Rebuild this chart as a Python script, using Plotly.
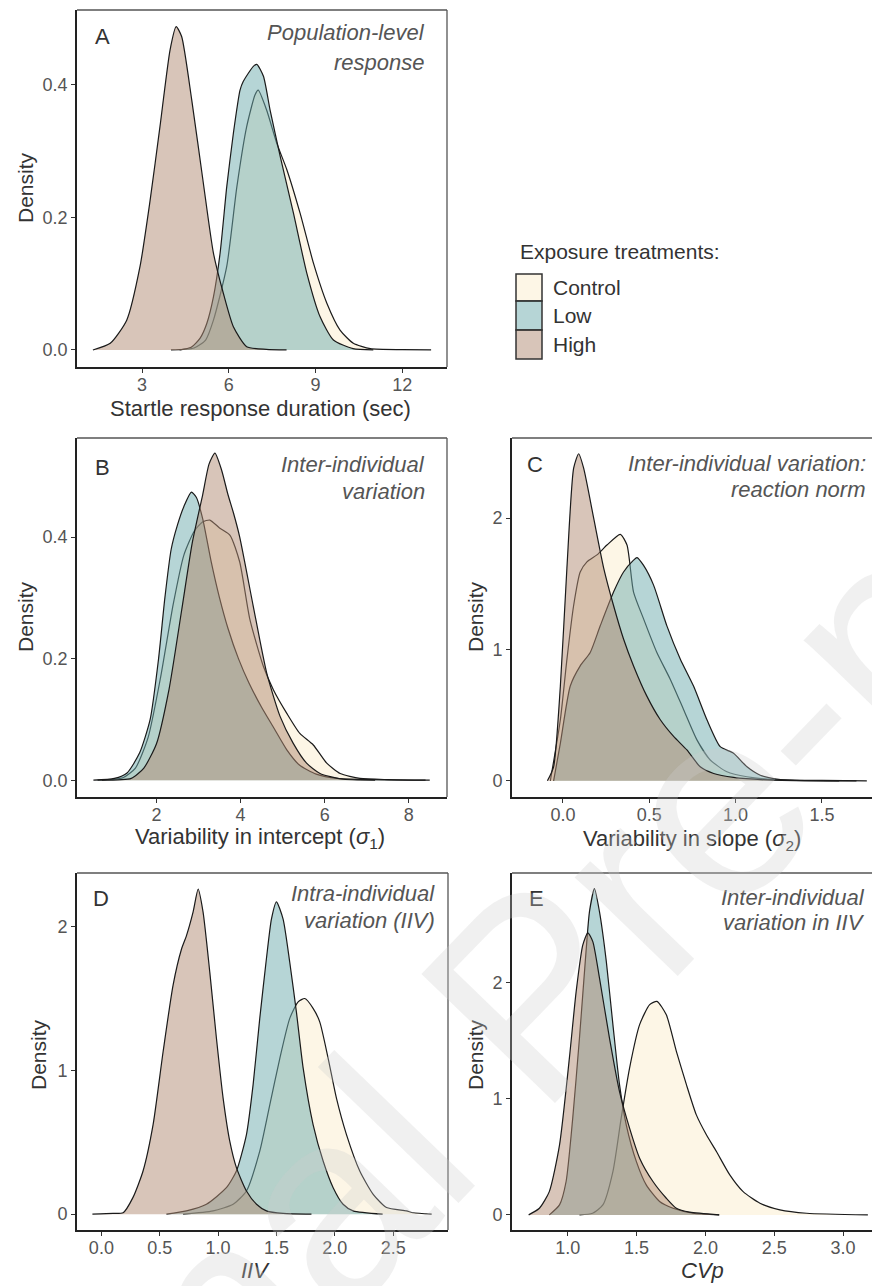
import plotly.graph_objects as go

W, H = 872, 1286

# ---------------- data ----------------
treatments = ["Control", "Low", "High"]

# Panel A: Startle response duration (sec)
A_control_x = [4.0, 4.8, 5.2, 5.47, 5.93, 6.28, 6.62, 6.91, 7.02, 7.31, 7.66, 8.01, 8.47, 8.93, 9.39, 9.85, 10.31, 10.9, 12.0, 13.0]
A_control_y = [0.0, 0.003, 0.015, 0.045, 0.126, 0.246, 0.337, 0.385, 0.392, 0.362, 0.312, 0.272, 0.206, 0.131, 0.071, 0.03, 0.01, 0.002, 0.0005, 0.0]
A_low_x = [4.3, 4.7, 5.01, 5.24, 5.47, 5.7, 5.93, 6.16, 6.39, 6.5, 6.85, 6.97, 7.2, 7.43, 7.78, 8.24, 8.7, 9.16, 9.62, 10.3, 11.0]
A_low_y = [0.0, 0.004, 0.018, 0.04, 0.08, 0.146, 0.246, 0.327, 0.392, 0.405, 0.428, 0.431, 0.413, 0.362, 0.292, 0.206, 0.116, 0.05, 0.015, 0.002, 0.0]
A_high_x = [1.3, 1.9, 2.47, 2.93, 3.28, 3.62, 3.97, 4.18, 4.37, 4.72, 5.12, 5.47, 5.81, 6.16, 6.62, 7.3, 8.0]
A_high_y = [0.0, 0.01, 0.045, 0.126, 0.226, 0.337, 0.453, 0.488, 0.473, 0.377, 0.252, 0.146, 0.086, 0.035, 0.005, 0.001, 0.0]

# Panel B: Variability in intercept
B_control_x = [0.6, 1.2, 1.5, 1.8, 2.1, 2.4, 2.65, 2.9, 3.1, 3.27, 3.5, 3.75, 3.98, 4.22, 4.54, 4.78, 5.1, 5.41, 5.73, 6.05, 6.37, 6.84, 7.5, 8.5]
B_control_y = [0.0, 0.004, 0.02, 0.07, 0.17, 0.29, 0.37, 0.41, 0.425, 0.428, 0.415, 0.403, 0.359, 0.265, 0.188, 0.149, 0.11, 0.077, 0.058, 0.028, 0.011, 0.003, 0.001, 0.0]
B_low_x = [0.5, 1.0, 1.3, 1.6, 1.85, 2.05, 2.2, 2.35, 2.5, 2.65, 2.83, 2.95, 3.1, 3.3, 3.5, 3.7, 3.95, 4.2, 4.5, 4.8, 5.1, 5.4, 5.8, 6.3, 8.4]
B_low_y = [0.0, 0.003, 0.012, 0.045, 0.1, 0.2, 0.3, 0.38, 0.42, 0.45, 0.474, 0.465, 0.43, 0.36, 0.3, 0.25, 0.2, 0.16, 0.12, 0.085, 0.05, 0.025, 0.01, 0.003, 0.0]
B_high_x = [0.7, 1.4, 1.7, 2.0, 2.3, 2.6, 2.85, 3.1, 3.25, 3.39, 3.55, 3.7, 3.83, 3.98, 4.3, 4.62, 4.94, 5.25, 5.57, 5.89, 6.4, 7.2]
B_high_y = [0.0, 0.003, 0.02, 0.06, 0.15, 0.28, 0.39, 0.47, 0.52, 0.538, 0.51, 0.47, 0.44, 0.40, 0.287, 0.177, 0.105, 0.061, 0.028, 0.011, 0.002, 0.0]

# Panel C: Variability in slope
C_control_x = [-0.073, -0.015, 0.023, 0.062, 0.1, 0.139, 0.197, 0.255, 0.332, 0.371, 0.409, 0.467, 0.544, 0.622, 0.699, 0.776, 0.853, 0.95, 1.066, 1.22, 1.5, 1.76]
C_control_y = [0.0, 0.465, 0.925, 1.335, 1.59, 1.667, 1.72, 1.795, 1.877, 1.795, 1.437, 1.233, 0.977, 0.772, 0.542, 0.312, 0.159, 0.069, 0.031, 0.01, 0.003, 0.0]
C_low_x = [-0.054, -0.015, 0.042, 0.1, 0.158, 0.216, 0.293, 0.351, 0.409, 0.429, 0.467, 0.525, 0.602, 0.68, 0.757, 0.834, 0.911, 0.988, 1.066, 1.143, 1.26, 1.7]
C_low_y = [0.0, 0.286, 0.72, 0.875, 0.977, 1.18, 1.437, 1.59, 1.68, 1.70, 1.64, 1.49, 1.18, 0.926, 0.72, 0.465, 0.26, 0.21, 0.107, 0.043, 0.01, 0.0]
C_high_x = [-0.09, -0.054, -0.015, 0.023, 0.062, 0.091, 0.12, 0.178, 0.236, 0.293, 0.351, 0.409, 0.486, 0.564, 0.641, 0.718, 0.795, 0.873, 0.988, 1.22, 1.6]
C_high_y = [0.0, 0.107, 0.72, 1.62, 2.38, 2.49, 2.38, 2.0, 1.62, 1.335, 1.08, 0.875, 0.645, 0.465, 0.338, 0.235, 0.107, 0.056, 0.026, 0.005, 0.0]

# Panel D: IIV
D_control_x = [0.7, 0.957, 1.129, 1.243, 1.357, 1.443, 1.529, 1.614, 1.686, 1.743, 1.814, 1.871, 1.943, 2.014, 2.1, 2.214, 2.329, 2.443, 2.614, 2.67, 2.83]
D_control_y = [0.0, 0.023, 0.069, 0.161, 0.438, 0.76, 1.083, 1.36, 1.475, 1.498, 1.43, 1.336, 1.083, 0.806, 0.553, 0.3, 0.138, 0.046, 0.023, 0.01, 0.0]
D_low_x = [0.557, 0.729, 0.9, 1.071, 1.157, 1.243, 1.3, 1.357, 1.414, 1.457, 1.5, 1.557, 1.614, 1.671, 1.729, 1.814, 1.9, 1.986, 2.071, 2.157, 2.41]
D_low_y = [0.0, 0.023, 0.069, 0.184, 0.3, 0.553, 0.9, 1.36, 1.774, 2.05, 2.17, 2.05, 1.75, 1.405, 1.014, 0.622, 0.369, 0.184, 0.069, 0.023, 0.0]
D_high_x = [-0.077, 0.1, 0.186, 0.27, 0.357, 0.443, 0.529, 0.614, 0.686, 0.729, 0.786, 0.829, 0.871, 0.929, 0.986, 1.043, 1.1, 1.157, 1.243, 1.329, 1.414, 1.557, 1.8]
D_high_y = [0.0, 0.005, 0.01, 0.115, 0.3, 0.622, 1.13, 1.59, 1.84, 1.935, 2.1, 2.258, 2.1, 1.68, 1.22, 0.806, 0.507, 0.323, 0.161, 0.069, 0.023, 0.005, 0.0]

# Panel E: CVp
E_control_x = [1.085, 1.18, 1.255, 1.328, 1.388, 1.449, 1.522, 1.595, 1.648, 1.716, 1.789, 1.862, 1.934, 2.007, 2.08, 2.177, 2.274, 2.396, 2.541, 2.735, 3.18]
E_control_y = [0.0, 0.014, 0.086, 0.373, 0.832, 1.263, 1.636, 1.808, 1.836, 1.72, 1.406, 1.12, 0.86, 0.689, 0.545, 0.344, 0.2, 0.1, 0.043, 0.014, 0.0]
E_low_x = [0.866, 0.94, 0.988, 1.036, 1.085, 1.133, 1.158, 1.194, 1.23, 1.28, 1.328, 1.376, 1.425, 1.498, 1.57, 1.667, 1.765, 1.91, 2.1]
E_low_y = [0.0, 0.086, 0.287, 0.83, 1.52, 2.27, 2.61, 2.806, 2.61, 2.18, 1.636, 1.12, 0.775, 0.46, 0.258, 0.115, 0.057, 0.014, 0.0]
E_high_x = [0.716, 0.794, 0.866, 0.94, 1.012, 1.061, 1.109, 1.146, 1.182, 1.23, 1.303, 1.376, 1.449, 1.522, 1.619, 1.716, 1.789, 1.886, 2.1]
E_high_y = [0.0, 0.057, 0.2, 0.6, 1.35, 1.92, 2.32, 2.425, 2.35, 2.04, 1.52, 1.06, 0.746, 0.488, 0.287, 0.143, 0.057, 0.023, 0.0]

# tick labels
A_xticks = [3, 6, 9, 12]
A_yticks = [0.0, 0.2, 0.4]
B_xticks = [2, 4, 6, 8]
B_yticks = [0.0, 0.2, 0.4]
C_xticks = [0.0, 0.5, 1.0, 1.5]
C_yticks = [0, 1, 2]
D_xticks = [0.0, 0.5, 1.0, 1.5, 2.0, 2.5]
D_yticks = [0, 1, 2]
E_xticks = [1.0, 1.5, 2.0, 2.5, 3.0]
E_yticks = [0, 1, 2]

# ---------------- styling ----------------
FONT = "Arial, Liberation Sans, sans-serif"
FILL = {
    "Control": "rgba(251,237,205,0.5)",
    "Low": "rgba(110,172,174,0.5)",
    "High": "rgba(177,140,116,0.5)",
}
LINE = "#1a1a1a"

def px_x(p):
    return p / W

def px_y(p):
    return 1 - p / H

panels = [
    dict(ax="", data=[(A_control_x, A_control_y), (A_low_x, A_low_y), (A_high_x, A_high_y)],
         xd=(77, 447), yd=(10, 367), xr=[0.75, 13.55], yr=[-0.0257, 0.513],
         xt=A_xticks, yt=A_yticks, xf="{:g}", yf="{:.1f}", right=False),
    dict(ax="2", data=[(B_control_x, B_control_y), (B_low_x, B_low_y), (B_high_x, B_high_y)],
         xd=(77, 447), yd=(438, 797), xr=[0.11, 8.91], yr=[-0.0276, 0.563],
         xt=B_xticks, yt=B_yticks, xf="{:g}", yf="{:.1f}", right=False),
    dict(ax="3", data=[(C_control_x, C_control_y), (C_low_x, C_low_y), (C_high_x, C_high_y)],
         xd=(512, 872), yd=(438, 797), xr=[-0.295, 1.79], yr=[-0.123, 2.61],
         xt=C_xticks, yt=C_yticks, xf="{:.1f}", yf="{:g}", right=True),
    dict(ax="4", data=[(D_control_x, D_control_y), (D_low_x, D_low_y), (D_high_x, D_high_y)],
         xd=(77, 448), yd=(873, 1230), xr=[-0.209, 2.97], yr=[-0.11, 2.37],
         xt=D_xticks, yt=D_yticks, xf="{:.1f}", yf="{:g}", right=False),
    dict(ax="5", data=[(E_control_x, E_control_y), (E_low_x, E_low_y), (E_high_x, E_high_y)],
         xd=(512, 872), yd=(873, 1230), xr=[0.595, 3.21], yr=[-0.13, 2.94],
         xt=E_xticks, yt=E_yticks, xf="{:.1f}", yf="{:g}", right=True),
]

fig = go.Figure()
layout = dict(
    width=W, height=H,
    margin=dict(l=0, r=0, t=0, b=0),
    paper_bgcolor="white", plot_bgcolor="white",
    showlegend=False,
    font=dict(family=FONT, color="#222"),
)
shapes = []

for p in panels:
    a = p["ax"]
    for name, (xs, ys) in zip(treatments, p["data"]):
        fig.add_trace(go.Scatter(
            x=xs, y=ys, mode="lines", name=name,
            line=dict(color=LINE, width=1.2, shape="spline", smoothing=0.6),
            fill="tozeroy", fillcolor=FILL[name],
            xaxis="x" + a, yaxis="y" + a, hoverinfo="skip",
        ))
    xd0, xd1 = p["xd"]
    yd0, yd1 = p["yd"]
    layout["xaxis" + a] = dict(
        domain=[px_x(xd0), min(1.0, px_x(xd1))], range=p["xr"], anchor="y" + a,
        showgrid=False, zeroline=False, showline=True, linecolor="#222", linewidth=1.6,
        ticks="outside", ticklen=4, tickwidth=1, tickcolor="#333",
        tickvals=p["xt"], ticktext=[p["xf"].format(v) for v in p["xt"]],
        tickfont=dict(size=18, color="#555", family=FONT),
        ticklabelstandoff=-3,
        fixedrange=True,
    )
    layout["yaxis" + a] = dict(
        domain=[px_y(yd1), px_y(yd0)], range=p["yr"], anchor="x" + a,
        showgrid=False, zeroline=False, showline=True, linecolor="#222", linewidth=1.6,
        ticks="outside", ticklen=4, tickwidth=1, tickcolor="#333",
        tickvals=p["yt"], ticktext=[p["yf"].format(v) for v in p["yt"]],
        tickfont=dict(size=18, color="#555", family=FONT),
        fixedrange=True,
    )
    xref = "x" + a + " domain"
    yref = "y" + a + " domain"
    shapes.append(dict(type="line", xref=xref, yref=yref, x0=0, x1=1, y0=1, y1=1,
                       line=dict(color="#555", width=1.3)))
    if not p["right"]:
        shapes.append(dict(type="line", xref=xref, yref=yref, x0=1, x1=1, y0=0, y1=1,
                           line=dict(color="#555", width=1.3)))

# legend (manual)
legend_rows = [("Control", 274, 301), ("Low", 301, 330), ("High", 330, 359)]
for name, t, b in legend_rows:
    shapes.append(dict(type="rect", xref="paper", yref="paper",
                       x0=px_x(516), x1=px_x(542), y0=px_y(b), y1=px_y(t),
                       fillcolor=FILL[name], line=dict(color="#333", width=1.5)))

layout["shapes"] = shapes

ann = []

def add_text(x, y, text, size=22, color="#222", xanchor="center", yanchor="middle", angle=0, italic=False):
    if italic:
        text = "<i>" + text + "</i>"
    ann.append(dict(x=px_x(x), y=px_y(y), xref="paper", yref="paper", text=text,
                    showarrow=False, xanchor=xanchor, yanchor=yanchor, textangle=angle,
                    font=dict(size=size, color=color, family=FONT)))

add_text(518, 252, "Exposure treatments:", size=21, color="#333", xanchor="left")
for name, t, b in legend_rows:
    add_text(551, (t + b) / 2, name, size=21, color="#333", xanchor="left")

for letter, x, y in [("A", 93, 36), ("B", 93, 467), ("C", 525, 465), ("D", 91, 898), ("E", 527, 898)]:
    add_text(x, y, letter, size=22, color="#333", xanchor="left")

titles = [
    (427, 32, "Population-level"), (427, 62, "response"),
    (427, 465, "Inter-individual"), (427, 491, "variation"),
    (868, 463, "Inter-individual variation:"), (868, 490, "reaction norm"),
    (437, 893, "Intra-individual"), (437, 920, "variation (IIV)"),
    (867, 897, "Inter-individual"), (867, 923, "variation in IIV"),
]
for x, y, t in titles:
    add_text(x, y, t, size=22, color="#555", xanchor="right", italic=True)

add_text(260, 409, "Startle response duration (sec)", size=22, color="#333")
add_text(260, 838, "Variability in intercept (<i>σ</i><sub>1</sub>)", size=22, color="#333")
add_text(692, 840, "Variability in slope (<i>σ</i><sub>2</sub>)", size=22, color="#333")
add_text(255, 1270, "IIV", size=22, color="#333", italic=True)
add_text(702, 1270, "CVp", size=22, color="#333", italic=True)
for x, y in [(25, 188), (25, 617), (475, 617), (38, 1055), (475, 1055)]:
    add_text(x, y, "Density", size=21, color="#333", angle=-90)

# faint watermark
ann.append(dict(x=px_x(530), y=px_y(995), xref="paper", yref="paper", text="Journal Pre-proof",
                showarrow=False, xanchor="center", yanchor="middle", textangle=-46,
                font=dict(size=270, color="rgba(205,205,205,0.3)", family=FONT)))

layout["annotations"] = ann
fig.update_layout(**layout)
fig.write_html("out.html", config={"displayModeBar": False},
               post_script="document.body.style.margin='0';document.body.style.overflow='hidden';")
